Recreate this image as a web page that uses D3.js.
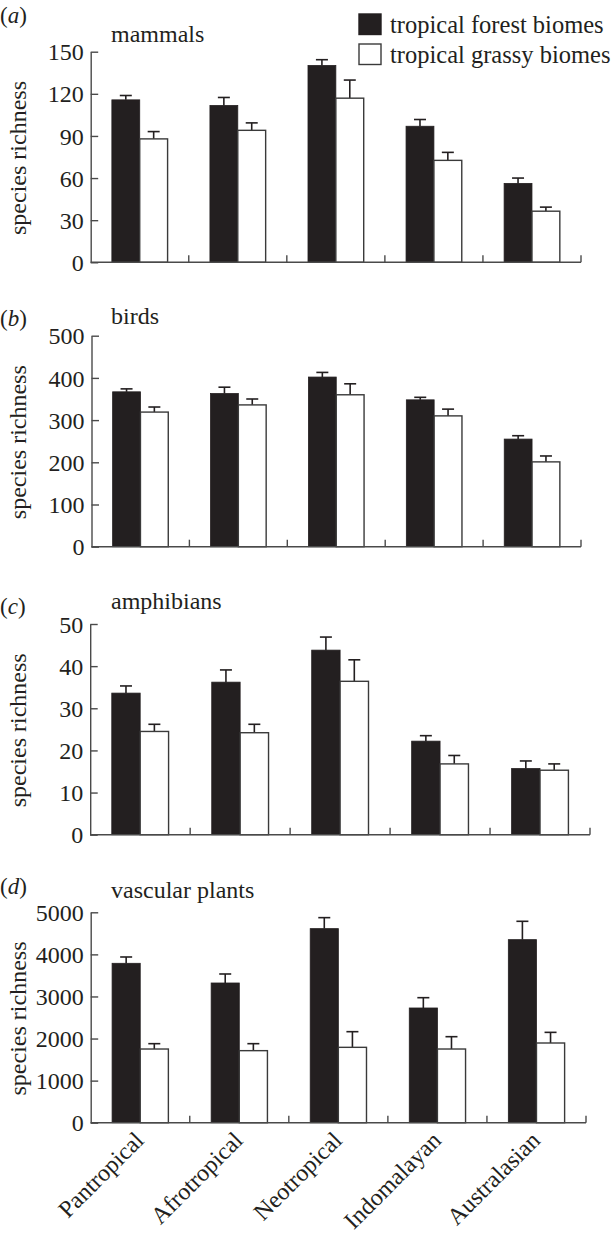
<!DOCTYPE html>
<html>
<head>
<meta charset="utf-8">
<script src="https://cdn.jsdelivr.net/npm/d3@7"></script>
<style>
  html, body { margin: 0; padding: 0; background: #fff; }
  svg { display: block; }
  text { font-family: "Liberation Serif", "Times New Roman", serif; fill: #231f20; }
</style>
</head>
<body>
<svg id="chart" width="615" height="1237"></svg>
<script>
// ---------------- data ----------------
const categories = ["Pantropical", "Afrotropical", "Neotropical", "Indomalayan", "Australasian"];
const seriesNames = ["tropical forest biomes", "tropical grassy biomes"];

const mammalsForest    = [115.7, 111.7, 140.2, 96.9, 56.2];
const mammalsForestErr = [3.1, 5.7, 4.1, 4.8, 3.8];
const mammalsGrassy    = [87.9, 94.0, 116.9, 72.6, 36.4];
const mammalsGrassyErr = [5.2, 5.3, 12.9, 5.7, 2.9];
const mammalsTicks     = [0, 30, 60, 90, 120, 150];

const birdsForest    = [367, 363, 402, 348, 255];
const birdsForestErr = [7, 15, 11, 6, 8];
const birdsGrassy    = [319, 336, 360, 310, 201];
const birdsGrassyErr = [12, 14, 26, 16, 14];
const birdsTicks     = [0, 100, 200, 300, 400, 500];

const amphibiansForest    = [33.6, 36.2, 43.8, 22.2, 15.7];
const amphibiansForestErr = [1.7, 2.9, 3.1, 1.3, 1.8];
const amphibiansGrassy    = [24.5, 24.2, 36.4, 16.8, 15.3];
const amphibiansGrassyErr = [1.7, 2.0, 5.1, 2.0, 1.5];
const amphibiansTicks     = [0, 10, 20, 30, 40, 50];

const plantsForest    = [3788, 3320, 4612, 2726, 4350];
const plantsForestErr = [150, 214, 261, 245, 436];
const plantsGrassy    = [1751, 1712, 1791, 1751, 1894];
const plantsGrassyErr = [127, 166, 372, 293, 253];
const plantsTicks     = [0, 1000, 2000, 3000, 4000, 5000];

const yTitle = "species richness";

// ---------------- layout ----------------
const panels = [
  { letter: "a", title: "mammals", forest: mammalsForest, forestErr: mammalsForestErr,
    grassy: mammalsGrassy, grassyErr: mammalsGrassyErr, ticks: mammalsTicks,
    top: 51.7, base: 262.3, left: 90.7, right: 581, titleY: 42, letterY: 23 },
  { letter: "b", title: "birds", forest: birdsForest, forestErr: birdsForestErr,
    grassy: birdsGrassy, grassyErr: birdsGrassyErr, ticks: birdsTicks,
    top: 335.7, base: 546.7, left: 91.5, right: 581, titleY: 323.5, letterY: 325.5 },
  { letter: "c", title: "amphibians", forest: amphibiansForest, forestErr: amphibiansForestErr,
    grassy: amphibiansGrassy, grassyErr: amphibiansGrassyErr, ticks: amphibiansTicks,
    top: 624, base: 834.7, left: 90.2, right: 590, titleY: 609, letterY: 614 },
  { letter: "d", title: "vascular plants", forest: plantsForest, forestErr: plantsForestErr,
    grassy: plantsGrassy, grassyErr: plantsGrassyErr, ticks: plantsTicks,
    top: 912.3, base: 1122.7, left: 90.7, right: 586, titleY: 898, letterY: 894, xLabels: true }
];

const ink = "#231f20";
const lineCol = "#4a4a4a";
const fontSize = 24;

const svg = d3.select("#chart");

panels.forEach(p => {
  const g = svg.append("g");
  const y = d3.scaleLinear().domain([0, d3.max(p.ticks)]).range([p.base, p.top]);
  const x0 = d3.scaleBand().domain(categories).range([p.left, p.right]).padding(0);
  const x1 = d3.scaleBand().domain(seriesNames).range([0, x0.bandwidth()])
               .paddingInner(0).paddingOuter(0.76);

  const rows = categories.map((c, i) => ({
    cat: c,
    vals: [
      { s: seriesNames[0], v: p.forest[i], e: p.forestErr[i] },
      { s: seriesNames[1], v: p.grassy[i], e: p.grassyErr[i] }
    ]
  }));

  // error bars (drawn first so bar outline sits on top)
  const eb = g.append("g");
  rows.forEach(r => {
    r.vals.forEach(d => {
      const cx = x0(r.cat) + x1(d.s) + x1.bandwidth() / 2;
      eb.append("line")
        .attr("x1", cx).attr("x2", cx)
        .attr("y1", y(d.v)).attr("y2", y(d.v + d.e))
        .attr("stroke", ink).attr("stroke-width", 1.6);
      eb.append("line")
        .attr("x1", cx - 6).attr("x2", cx + 6)
        .attr("y1", y(d.v + d.e)).attr("y2", y(d.v + d.e))
        .attr("stroke", ink).attr("stroke-width", 1.6);
    });
  });

  // bars
  const grp = g.selectAll("g.cat").data(rows).join("g").attr("class", "cat")
    .attr("transform", r => `translate(${x0(r.cat)},0)`);
  grp.selectAll("rect").data(r => r.vals).join("rect")
    .attr("x", d => x1(d.s))
    .attr("y", d => y(d.v))
    .attr("width", x1.bandwidth())
    .attr("height", d => y(0) - y(d.v))
    .attr("fill", (d, i) => i === 0 ? ink : "#fff")
    .attr("stroke", (d, i) => i === 0 ? ink : "#3a3a3a")
    .attr("stroke-width", (d, i) => i === 0 ? 0.8 : 1.4);

  // y axis
  const yAxis = d3.axisLeft(y).tickValues(p.ticks).tickFormat(d3.format("d"))
    .tickSizeInner(-7.5).tickSizeOuter(0).tickPadding(7);
  const ya = g.append("g").attr("transform", `translate(${p.left},0)`).call(yAxis);
  ya.select(".domain").attr("stroke", lineCol).attr("stroke-width", 1.4);
  ya.selectAll(".tick line").attr("stroke", lineCol).attr("stroke-width", 1.4);
  ya.selectAll(".tick text")
    .attr("font-family", "Liberation Serif, Times New Roman, serif")
    .attr("font-size", fontSize).attr("fill", ink).attr("dy", "0.34em");

  // x axis line + boundary ticks (pointing inward)
  g.append("line")
    .attr("x1", p.left).attr("x2", p.right)
    .attr("y1", p.base).attr("y2", p.base)
    .attr("stroke", lineCol).attr("stroke-width", 1.4);
  const bounds = categories.map(c => x0(c) + x0.step());
  g.selectAll("line.xt").data(bounds).join("line").attr("class", "xt")
    .attr("x1", d => d).attr("x2", d => d)
    .attr("y1", p.base).attr("y2", p.base - 7)
    .attr("stroke", lineCol).attr("stroke-width", 1.4);

  // y title
  g.append("text")
    .attr("transform", `translate(26,${(p.top + p.base) / 2 + 1}) rotate(-90)`)
    .attr("text-anchor", "middle")
    .attr("font-size", fontSize)
    .text(yTitle);

  // panel title
  g.append("text").attr("x", 111).attr("y", p.titleY)
    .attr("font-size", fontSize).text(p.title);

  // panel letter
  const lt = g.append("text").attr("x", 0).attr("y", p.letterY).attr("font-size", 23);
  lt.append("tspan").text("(");
  lt.append("tspan").attr("font-style", "italic").text(p.letter);
  lt.append("tspan").text(")");

  // category labels
  if (p.xLabels) {
    g.selectAll("text.cl").data(categories).join("text").attr("class", "cl")
      .attr("text-anchor", "end")
      .attr("font-size", fontSize)
      .attr("transform", c => `translate(${x0(c) + x0.bandwidth() / 2 + 5},${p.base + 19}) rotate(-45)`)
      .text(c => c);
  }
});

// legend
const legend = svg.append("g");
const legendRows = [
  { name: seriesNames[0], fill: ink, stroke: ink, y: 14 },
  { name: seriesNames[1], fill: "#fff", stroke: "#3a3a3a", y: 44 }
];
legend.selectAll("rect").data(legendRows).join("rect")
  .attr("x", 359).attr("y", d => d.y).attr("width", 22).attr("height", 20.5)
  .attr("fill", d => d.fill).attr("stroke", d => d.stroke).attr("stroke-width", 1.4);
legend.selectAll("text").data(legendRows).join("text")
  .attr("x", 390).attr("y", d => d.y + 19)
  .attr("font-size", 24.5)
  .text(d => d.name);
</script>
</body>
</html>
